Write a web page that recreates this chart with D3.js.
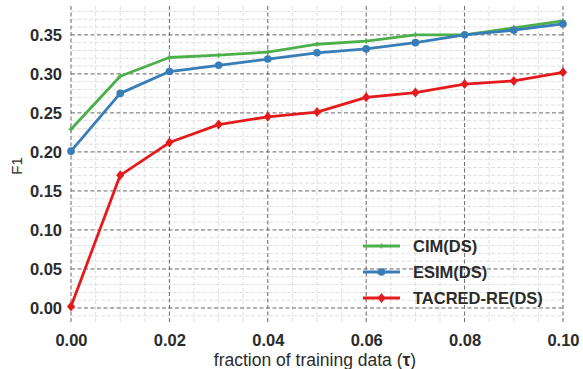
<!DOCTYPE html>
<html>
<head>
<meta charset="utf-8">
<script src="https://cdn.jsdelivr.net/npm/d3@7"></script>
<style>
  body { margin: 0; background: #fff; }
  text { font-family: "Liberation Sans", Arial, sans-serif; fill: #2b2b2b; }
</style>
</head>
<body>
<div id="chart"></div>
<script>
const fractions = [0.00, 0.01, 0.02, 0.03, 0.04, 0.05, 0.06, 0.07, 0.08, 0.09, 0.10];
const cimDS = [0.229, 0.297, 0.321, 0.324, 0.328, 0.338, 0.342, 0.350, 0.350, 0.359, 0.368];
const esimDS = [0.201, 0.275, 0.303, 0.311, 0.319, 0.327, 0.332, 0.340, 0.350, 0.356, 0.364];
const tacredDS = [0.002, 0.170, 0.212, 0.235, 0.245, 0.251, 0.270, 0.276, 0.287, 0.291, 0.302];
const seriesNames = ['CIM(DS)', 'ESIM(DS)', 'TACRED-RE(DS)'];
const xTicks = [0.00, 0.02, 0.04, 0.06, 0.08, 0.10];
const yTicks = [0.00, 0.05, 0.10, 0.15, 0.20, 0.25, 0.30, 0.35];

const width = 583, height = 369;
const margin = { top: 6, right: 20, bottom: 47, left: 71 };

const svg = d3.select('#chart').append('svg')
  .attr('width', width)
  .attr('height', height);

const x = d3.scaleLinear().domain([0, 0.10]).range([margin.left, width - margin.right]);
const y = d3.scaleLinear().domain([-0.018, 0.387]).range([height - margin.bottom, margin.top]);

// minor grid
const xMinor = d3.range(0, 0.1001, 0.005).filter(v => Math.abs(v / 0.02 - Math.round(v / 0.02)) > 1e-6);
const yMinor = d3.range(-0.01, 0.3801, 0.01).filter(v => Math.abs(v / 0.05 - Math.round(v / 0.05)) > 1e-6);

const grid = svg.append('g');
grid.selectAll('.xminor').data(xMinor).enter().append('line')
  .attr('x1', d => x(d)).attr('x2', d => x(d))
  .attr('y1', y.range()[0]).attr('y2', y.range()[1])
  .attr('stroke', '#e0e0e0').attr('stroke-width', 1).attr('stroke-dasharray', '4,2');
grid.selectAll('.yminor').data(yMinor).enter().append('line')
  .attr('x1', x.range()[0]).attr('x2', x.range()[1])
  .attr('y1', d => y(d)).attr('y2', d => y(d))
  .attr('stroke', '#e0e0e0').attr('stroke-width', 1).attr('stroke-dasharray', '4,2');

grid.selectAll('.xmajor').data(xTicks).enter().append('line')
  .attr('x1', d => x(d)).attr('x2', d => x(d))
  .attr('y1', y.range()[0]).attr('y2', y.range()[1])
  .attr('stroke', '#666').attr('stroke-width', 1).attr('stroke-dasharray', '4,2.5');
grid.selectAll('.ymajor').data(yTicks).enter().append('line')
  .attr('x1', x.range()[0]).attr('x2', x.range()[1])
  .attr('y1', d => y(d)).attr('y2', d => y(d))
  .attr('stroke', '#666').attr('stroke-width', 1).attr('stroke-dasharray', '4,2.5');

// axes (labels only)
const xAxis = svg.append('g')
  .attr('transform', 'translate(0,' + y.range()[0] + ')')
  .call(d3.axisBottom(x).tickValues(xTicks).tickFormat(d3.format('.2f')).tickSize(0).tickPadding(12));
const yAxis = svg.append('g')
  .attr('transform', 'translate(' + margin.left + ',0)')
  .call(d3.axisLeft(y).tickValues(yTicks).tickFormat(d3.format('.2f')).tickSize(0).tickPadding(9));
[xAxis, yAxis].forEach(a => {
  a.select('.domain').remove();
  a.selectAll('text')
    .style('font-family', '"Liberation Sans", Arial, sans-serif')
    .style('font-size', '16.5px')
    .style('font-weight', 'bold')
    .style('fill', '#2b2b2b');
});

svg.append('text')
  .attr('x', 315).attr('y', 366)
  .attr('text-anchor', 'middle')
  .style('font-size', '17.5px')
  .html('fraction of training data (<tspan style="font-weight:bold">τ</tspan>)');

svg.append('text')
  .attr('transform', 'translate(22,166) rotate(-90)')
  .attr('text-anchor', 'middle')
  .style('font-size', '15px')
  .text('F1');

const colors = ['#4daf4a', '#377eb8', '#e41a1c'];
const allSeries = [cimDS, esimDS, tacredDS];
const line = d3.line().x((d, i) => x(fractions[i])).y(d => y(d));

function marker(g, kind, cx, cy, color) {
  if (kind === 0) {
    g.append('path').attr('d', `M${cx - 2.5},${cy}H${cx + 2.5}M${cx},${cy - 2.5}V${cy + 2.5}`)
      .attr('stroke', color).attr('stroke-width', 1.5);
  } else if (kind === 1) {
    g.append('circle').attr('cx', cx).attr('cy', cy).attr('r', 3.8).attr('fill', color);
  } else {
    g.append('path').attr('d', `M${cx},${cy - 5}L${cx + 4},${cy}L${cx},${cy + 5}L${cx - 4},${cy}Z`)
      .attr('fill', color);
  }
}

allSeries.forEach((vals, k) => {
  const g = svg.append('g');
  g.append('path').datum(vals)
    .attr('d', line)
    .attr('fill', 'none')
    .attr('stroke', colors[k])
    .attr('stroke-width', 2.8)
    .attr('stroke-linejoin', 'round');
  vals.forEach((v, i) => marker(g, k, x(fractions[i]), y(v), colors[k]));
});

// legend
const legend = svg.append('g');
seriesNames.forEach((name, k) => {
  const ly = 246 + k * 26;
  legend.append('line')
    .attr('x1', 363).attr('x2', 400).attr('y1', ly).attr('y2', ly)
    .attr('stroke', colors[k]).attr('stroke-width', 2.8);
  marker(legend, k, 381.5, ly, colors[k]);
  legend.append('text')
    .attr('x', 413).attr('y', ly + 6)
    .style('font-size', '16.5px')
    .style('font-weight', 'bold')
    .text(name);
});
</script>
</body>
</html>
